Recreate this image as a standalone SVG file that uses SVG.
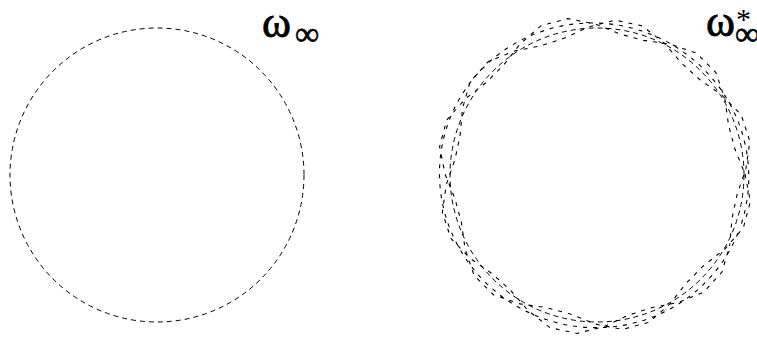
<svg xmlns="http://www.w3.org/2000/svg" width="757" height="345" viewBox="0 0 757 345">
<style>
.c{fill:none;stroke:#000;stroke-width:1;stroke-dasharray:5,4}
.n{fill:none;stroke:#000;stroke-width:1.1;stroke-dasharray:4,6}
.w{font-family:"Liberation Serif",serif;font-size:44px;fill:#000;stroke:#000;stroke-width:0.8}
.s{font-family:"Liberation Serif",serif;font-size:34px;fill:#000;stroke:#000;stroke-width:0.6}
.a{font-family:"Liberation Serif",serif;font-size:30px;fill:#000}
</style>
<defs>
<polygon id="wave" points="745,174 750.4,201.4 743.3,228 724.9,249 703.9,265.4 686.4,282.9 670,303.9 649,322.3 622.4,329.4 595,324 570.3,314 546.4,307.6 520,303.9 493.6,294.9 474.1,275.4 465.1,249 461.4,222.6 455,198.7 445,174 439.6,146.6 446.7,120 465.1,99 486.1,82.6 503.6,65.1 520,44.1 541,25.7 567.6,18.6 595,24 619.7,34 643.6,40.4 670,44.1 696.4,53.1 715.9,72.6 724.9,99 728.6,125.4 735,149.3"/>
</defs>
<rect width="757" height="345" fill="#fff"/>
<g id="left">
<circle class="c" cx="157" cy="175" r="147"/>
<text class="w" x="262" y="37">ω</text>
<text class="s" x="295" y="45">∞</text>
</g>
<g id="right">
<circle class="c" cx="597" cy="175" r="147"/>
<use href="#wave" class="n"/>
<use href="#wave" class="n" stroke-dashoffset="3" transform="rotate(27 597 175) translate(2 3)"/>
<ellipse class="n" cx="594" cy="176" rx="155" ry="152" stroke-dashoffset="5" transform="rotate(20 596 176)"/>
<text class="w" x="706" y="36">ω</text>
<text class="s" x="735" y="45">∞</text>
<text class="a" x="736" y="29">*</text>
</g>
</svg>
